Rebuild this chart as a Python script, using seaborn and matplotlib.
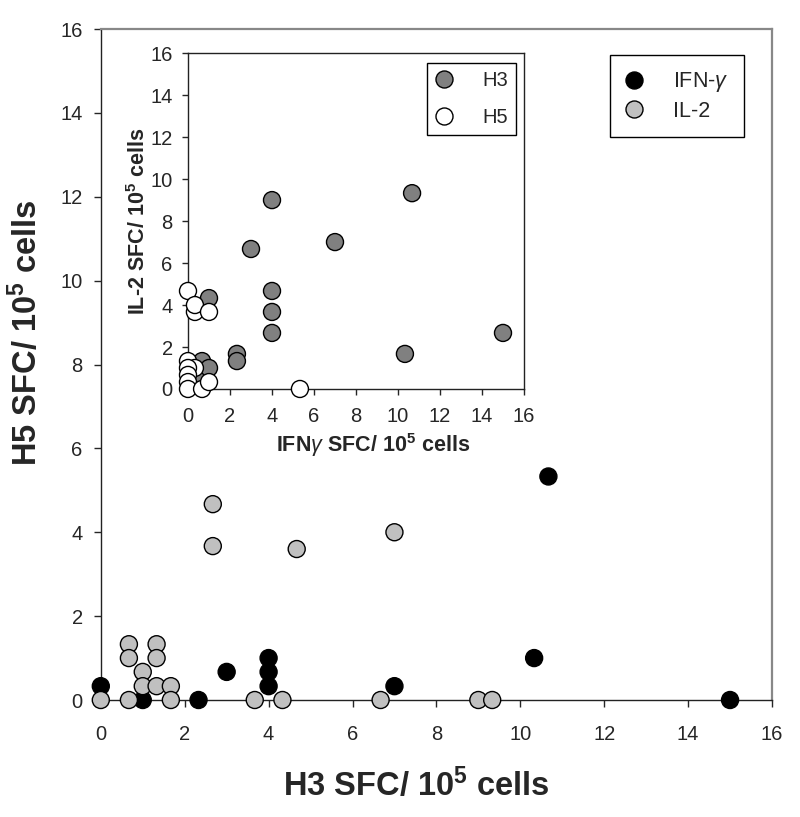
import pandas as pd
import matplotlib
matplotlib.use("Agg")
import matplotlib.pyplot as plt
import seaborn as sns

# main panel: H3 vs H5 responses per cytokine
ifn_h3 = [0, 1, 2.33, 3, 4, 4, 4, 7, 10.33, 10.67, 15]
ifn_h5 = [0.33, 0, 0, 0.67, 1, 0.67, 0.33, 0.33, 1, 5.33, 0]
il2_h3 = [0, 0.67, 0.67, 0.67, 1, 1, 1.33, 1.33, 1.33, 1.67, 1.67,
          2.67, 2.67, 3.67, 4.33, 4.67, 6.67, 7, 9, 9.33]
il2_h5 = [0, 1.33, 1, 0, 0.67, 0.33, 1.33, 1, 0.33, 0.33, 0,
          4.67, 3.67, 0, 0, 3.6, 0, 4, 0, 0]

# inset: IFN-g vs IL-2 per strain
h3_ifn = [0.67, 0.67, 1, 1, 2.33, 2.33, 3, 4, 4, 4, 4, 7, 10.33, 10.67, 15]
h3_il2 = [0.67, 1.33, 1, 4.33, 1.67, 1.33, 6.67, 9, 4.67, 3.67, 2.67, 7, 1.67, 9.33, 2.67]
h5_ifn = [0, 0.33, 0.33, 1, 0, 0.33, 0, 0, 0, 0, 0.67, 1, 5.33]
h5_il2 = [4.67, 3.67, 4, 3.67, 1.33, 1, 1, 0.67, 0.33, 0, 0, 0.33, 0]

ticks = [0, 2, 4, 6, 8, 10, 12, 14, 16]

sns.set_style("ticks")
plt.rcParams["font.family"] = ["Liberation Sans", "DejaVu Sans"]
plt.rcParams["mathtext.fontset"] = "custom"
plt.rcParams["mathtext.rm"] = "Liberation Sans"
plt.rcParams["mathtext.bf"] = "Liberation Sans:bold"
plt.rcParams["mathtext.it"] = "Liberation Sans:italic"

main_df = pd.DataFrame({
    "h3": ifn_h3 + il2_h3,
    "h5": ifn_h5 + il2_h5,
    "cytokine": ["IFN-$\\gamma$"] * len(ifn_h3) + ["IL-2"] * len(il2_h3),
})
inset_df = pd.DataFrame({
    "ifn": h3_ifn + h5_ifn,
    "il2": h3_il2 + h5_il2,
    "strain": ["H3"] * len(h3_ifn) + ["H5"] * len(h5_ifn),
})

fig = plt.figure(figsize=(8, 8.17), dpi=100)
ax = fig.add_axes([0.126, 0.1432, 0.839, 0.8213])

sns.scatterplot(data=main_df, x="h3", y="h5", hue="cytokine",
                palette={"IFN-$\\gamma$": "black", "IL-2": "#c0c0c0"},
                s=150, edgecolor="black", linewidth=1, clip_on=False,
                zorder=3, ax=ax)
ax.set_xlim(0, 16)
ax.set_ylim(0, 16)
ax.set_xticks(ticks)
ax.set_yticks(ticks)
ax.tick_params(axis="both", labelsize=14.5, length=5, width=1, direction="out")
ax.tick_params(axis="x", pad=13)
ax.tick_params(axis="y", pad=8)
for side in ["left", "bottom"]:
    ax.spines[side].set_color("#222222")
    ax.spines[side].set_linewidth(1)
for side in ["top", "right"]:
    ax.spines[side].set_visible(True)
    ax.spines[side].set_color("#888888")
    ax.spines[side].set_linewidth(1.6)

ax.set_xlabel("H3 SFC/ 10$^{\\mathbf{5}}$ cells", fontsize=23.5, fontweight="bold")
ax.set_ylabel("H5 SFC/ 10$^{\\mathbf{5}}$ cells", fontsize=23.5, fontweight="bold")
ax.xaxis.set_label_coords(0.47, -0.1)
ax.yaxis.set_label_coords(-0.085, 0.548)

handles, labels = ax.get_legend_handles_labels()
leg = ax.legend(handles, labels, loc="upper right", bbox_to_anchor=(0.958, 0.961),
                borderaxespad=0, fontsize=15.5, frameon=True, fancybox=False,
                edgecolor="black", framealpha=1, borderpad=0.7, labelspacing=0.3,
                handlelength=0.9, handletextpad=1.35, markerscale=1.0)
leg.get_frame().set_linewidth(1)

# inset
axi = fig.add_axes([0.235, 0.5239, 0.42, 0.411])
sns.scatterplot(data=inset_df, x="ifn", y="il2", hue="strain",
                palette={"H3": "#808080", "H5": "white"},
                s=150, edgecolor="black", linewidth=1, clip_on=False,
                zorder=3, ax=axi)
axi.set_xlim(0, 16)
axi.set_ylim(0, 16)
axi.set_xticks(ticks)
axi.set_yticks(ticks)
axi.tick_params(axis="both", labelsize=14.5, length=4, width=1, direction="out")
axi.tick_params(axis="x", pad=9)
axi.tick_params(axis="y", pad=7)
for side in ["left", "bottom", "top", "right"]:
    axi.spines[side].set_visible(True)
    axi.spines[side].set_color("#222222")
    axi.spines[side].set_linewidth(1)
axi.set_xlabel("IFN$\\gamma$ SFC/ 10$^{\\mathbf{5}}$ cells", fontsize=15.5, fontweight="bold")
axi.set_ylabel("IL-2 SFC/ 10$^{\\mathbf{5}}$ cells", fontsize=15.5, fontweight="bold")
axi.xaxis.set_label_coords(0.551, -0.125)
axi.yaxis.set_label_coords(-0.113, 0.5)

handles, labels = axi.get_legend_handles_labels()
leg2 = axi.legend(handles, labels, loc="upper right", bbox_to_anchor=(0.976, 0.970),
                  borderaxespad=0, fontsize=14.5, frameon=True, fancybox=False,
                  edgecolor="black", framealpha=1, borderpad=0.4, labelspacing=0.9,
                  handlelength=0.9, handletextpad=1.45, markerscale=1.0)
leg2.get_frame().set_linewidth(1)

fig.savefig("out.png", dpi=100)
